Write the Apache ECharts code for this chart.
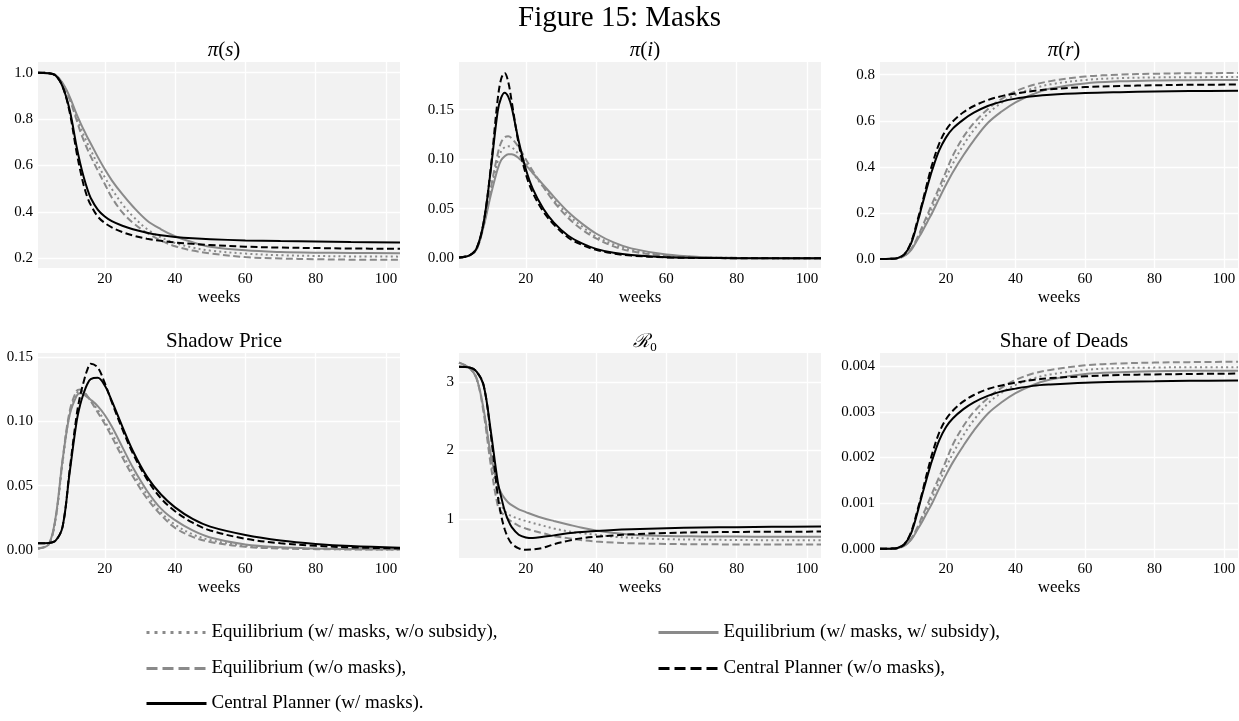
<!DOCTYPE html>
<html>
<head>
<meta charset="utf-8">
<script src="https://cdn.jsdelivr.net/npm/echarts@6/dist/echarts.min.js"></script>
<style>html,body{margin:0;padding:0;background:#fff}#c{width:1239px;height:721px}</style>
</head>
<body>
<div id="c"></div>
<script>
// ---------- data ----------
const weeks = [1,4,6,8,10,12,13,14,15,16,18,20,22,25,28,32,36,40,45,50,60,70,80,90,104];
const xTicks = [20,40,60,80,100];

const seriesNames = [
  'Equilibrium (w/ masks, w/o subsidy)',
  'Equilibrium (w/ masks, w/ subsidy)',
  'Equilibrium (w/o masks)',
  'Central Planner (w/o masks)',
  'Central Planner (w/ masks)'
];

// pi(s)
const s_eqMaskNoSub = [1.0,0.998,0.99,0.953,0.891,0.807,0.767,0.731,0.697,0.666,0.605,0.549,0.499,0.433,0.381,0.326,0.29,0.266,0.246,0.233,0.22,0.213,0.21,0.208,0.207];
const s_eqMaskSub   = [1.0,0.998,0.99,0.955,0.897,0.82,0.786,0.754,0.723,0.695,0.637,0.584,0.536,0.476,0.423,0.363,0.325,0.295,0.269,0.25,0.234,0.227,0.224,0.223,0.222];
const s_eqNoMask    = [1.0,0.998,0.99,0.95,0.885,0.795,0.748,0.708,0.672,0.639,0.578,0.52,0.462,0.398,0.353,0.309,0.276,0.252,0.233,0.221,0.205,0.199,0.196,0.194,0.193];
const s_cpNoMask    = [1.0,0.998,0.988,0.94,0.83,0.655,0.58,0.515,0.465,0.43,0.38,0.352,0.333,0.313,0.298,0.284,0.275,0.268,0.262,0.257,0.25,0.246,0.244,0.242,0.241];
const s_cpMask      = [1.0,0.998,0.988,0.94,0.84,0.68,0.61,0.55,0.5,0.46,0.41,0.38,0.36,0.34,0.325,0.31,0.299,0.292,0.286,0.282,0.277,0.274,0.272,0.27,0.268];
const s_ticks = [0.2,0.4,0.6,0.8,1.0];

// pi(i)
const i_eqMaskNoSub = [0.0008,0.003,0.009,0.033,0.067,0.098,0.108,0.112,0.113,0.112,0.105,0.096,0.086,0.072,0.059,0.044,0.032,0.022,0.014,0.0085,0.003,0.001,0.0004,0.00015,0.00004];
const i_eqMaskSub   = [0.0008,0.003,0.009,0.032,0.063,0.09,0.099,0.103,0.105,0.105,0.101,0.094,0.086,0.074,0.062,0.047,0.035,0.025,0.016,0.01,0.0038,0.0014,0.0005,0.0002,0.00005];
const i_eqNoMask    = [0.0008,0.003,0.009,0.034,0.07,0.105,0.117,0.122,0.123,0.121,0.112,0.1,0.088,0.072,0.057,0.041,0.029,0.02,0.012,0.007,0.0025,0.0008,0.0003,0.0001,0.00003];
const i_cpNoMask    = [0.0008,0.003,0.01,0.036,0.09,0.16,0.181,0.187,0.178,0.158,0.115,0.085,0.066,0.047,0.034,0.021,0.0135,0.0085,0.0048,0.0027,0.0009,0.0003,0.0001,0.00004,0.00001];
const i_cpMask      = [0.0008,0.003,0.01,0.036,0.088,0.148,0.162,0.167,0.163,0.152,0.118,0.09,0.07,0.05,0.036,0.023,0.015,0.0095,0.0055,0.0032,0.0011,0.0004,0.00015,0.00005,0.00002];
const i_ticks = [0,0.05,0.10,0.15];

// pi(r)
const r_eqMaskNoSub = [0,0.001,0.003,0.014,0.042,0.095,0.125,0.157,0.19,0.222,0.29,0.355,0.415,0.495,0.56,0.63,0.678,0.712,0.74,0.758,0.777,0.785,0.788,0.789,0.79];
const r_eqMaskSub   = [0,0.001,0.003,0.013,0.04,0.09,0.115,0.143,0.172,0.2,0.262,0.322,0.378,0.45,0.515,0.59,0.64,0.68,0.715,0.74,0.762,0.771,0.775,0.776,0.777];
const r_eqNoMask    = [0,0.001,0.003,0.016,0.045,0.1,0.135,0.17,0.205,0.24,0.31,0.38,0.45,0.53,0.59,0.65,0.695,0.728,0.755,0.772,0.792,0.8,0.804,0.806,0.807];
const r_cpNoMask    = [0,0.001,0.004,0.02,0.075,0.18,0.235,0.295,0.355,0.41,0.5,0.56,0.598,0.637,0.664,0.69,0.707,0.718,0.729,0.737,0.746,0.751,0.754,0.756,0.757];
const r_cpMask      = [0,0.001,0.004,0.02,0.07,0.17,0.227,0.282,0.335,0.385,0.47,0.528,0.567,0.605,0.635,0.664,0.683,0.696,0.706,0.713,0.72,0.724,0.727,0.729,0.73];
const r_ticks = [0,0.2,0.4,0.6,0.8];

// Shadow price
const p_eqMaskNoSub = [0.001,0.004,0.024,0.068,0.106,0.122,0.124,0.123,0.12,0.116,0.109,0.1,0.091,0.075,0.06,0.043,0.029,0.0195,0.012,0.0075,0.003,0.0013,0.0006,0.0003,0.0002];
const p_eqMaskSub   = [0.001,0.004,0.025,0.07,0.105,0.12,0.122,0.121,0.119,0.117,0.112,0.105,0.096,0.08,0.064,0.046,0.032,0.023,0.015,0.0095,0.004,0.0018,0.0009,0.0005,0.0003];
const p_eqNoMask    = [0.001,0.004,0.024,0.07,0.108,0.124,0.125,0.123,0.12,0.116,0.107,0.098,0.088,0.072,0.057,0.04,0.027,0.017,0.01,0.006,0.0022,0.0009,0.0004,0.0002,0.0001];
const p_cpNoMask    = [0.005,0.0052,0.007,0.018,0.062,0.105,0.12,0.131,0.14,0.145,0.142,0.13,0.115,0.094,0.075,0.055,0.04,0.03,0.021,0.015,0.0085,0.005,0.003,0.0018,0.001];
const p_cpMask      = [0.005,0.0052,0.007,0.018,0.06,0.1,0.113,0.122,0.129,0.133,0.134,0.128,0.116,0.096,0.077,0.057,0.043,0.033,0.024,0.018,0.0115,0.0072,0.0045,0.0028,0.0015];
const p_ticks = [0,0.05,0.10,0.15];

// R0
const R_eqMaskNoSub = [3.28,3.2,3.05,2.6,1.9,1.35,1.2,1.12,1.07,1.04,1.0,0.97,0.94,0.9,0.86,0.82,0.79,0.77,0.74,0.725,0.705,0.697,0.693,0.69,0.69];
const R_eqMaskSub   = [3.28,3.2,3.05,2.6,1.95,1.5,1.38,1.3,1.24,1.2,1.14,1.1,1.06,1.01,0.97,0.92,0.87,0.83,0.795,0.77,0.75,0.745,0.742,0.74,0.74];
const R_eqNoMask    = [3.28,3.2,3.05,2.55,1.8,1.2,1.1,1.05,1.0,0.96,0.9,0.86,0.83,0.79,0.75,0.72,0.69,0.67,0.655,0.645,0.635,0.63,0.628,0.627,0.627];
const R_cpNoMask    = [3.22,3.21,3.15,2.95,2.25,1.35,1.05,0.85,0.72,0.64,0.57,0.55,0.555,0.58,0.63,0.68,0.72,0.74,0.76,0.775,0.795,0.805,0.81,0.813,0.815];
const R_cpMask      = [3.22,3.21,3.15,2.95,2.3,1.55,1.32,1.12,0.98,0.88,0.77,0.73,0.72,0.74,0.76,0.79,0.81,0.825,0.84,0.85,0.865,0.875,0.88,0.885,0.888];
const R_ticks = [1,2,3];

// Share of deads
const d_eqMaskNoSub = [0,0.000005,0.000015,0.00007,0.00021,0.00048,0.00063,0.00079,0.00096,0.00112,0.00146,0.00179,0.00209,0.00249,0.00282,0.00318,0.00342,0.00359,0.00373,0.00382,0.00392,0.00396,0.00397,0.00398,0.00398];
const d_eqMaskSub   = [0,0.000005,0.000015,0.000065,0.0002,0.00045,0.00058,0.00072,0.00086,0.001,0.00132,0.00162,0.0019,0.00226,0.00259,0.00296,0.00321,0.00341,0.00359,0.00371,0.00383,0.00387,0.00389,0.0039,0.0039];
const d_eqNoMask    = [0,0.000005,0.000015,0.00008,0.00023,0.00051,0.00069,0.00086,0.00104,0.00122,0.00157,0.00193,0.00229,0.00269,0.003,0.0033,0.00353,0.0037,0.00384,0.00392,0.00402,0.00406,0.00408,0.00409,0.0041];
const d_cpNoMask    = [0,0.000005,0.00002,0.0001,0.00038,0.00091,0.00119,0.0015,0.0018,0.00208,0.00254,0.00284,0.00303,0.00323,0.00337,0.0035,0.00358,0.00364,0.0037,0.00374,0.00378,0.00381,0.00382,0.00383,0.00384];
const d_cpMask      = [0,0.000005,0.00002,0.0001,0.00035,0.00086,0.00115,0.00142,0.00169,0.00194,0.00237,0.00267,0.00286,0.00306,0.00321,0.00335,0.00345,0.00351,0.00357,0.0036,0.00364,0.00366,0.00367,0.00368,0.00369];
const d_ticks = [0,0.001,0.002,0.003,0.004];

// ---------- layout / style ----------
const FONT = "'Liberation Serif','DejaVu Serif',serif";
const GRAY = '#8a8a8a';
const styles = [
  {color: GRAY, type: [2, 3.2], width: 2},
  {color: GRAY, type: 'solid', width: 2},
  {color: GRAY, type: [7, 3.5], width: 2},
  {color: '#000', type: [7, 3.5], width: 2},
  {color: '#000', type: 'solid', width: 2}
];
const legendStyles = [
  {color: GRAY, type: [3, 5], width: 3},
  {color: GRAY, type: 'solid', width: 3},
  {color: GRAY, type: [11, 5], width: 3},
  {color: '#000', type: [11, 5], width: 3},
  {color: '#000', type: 'solid', width: 3}
];

const cols = [{left: 38, width: 362}, {left: 459, width: 362}, {left: 880, width: 358}];
const rows = [{top: 62, height: 206}, {top: 353, height: 205}];

const panels = [
  {title: '{i|π}{n|(}{i|s}{n|)}', sets: [s_eqMaskNoSub,s_eqMaskSub,s_eqNoMask,s_cpNoMask,s_cpMask], ticks: s_ticks, min: 0.158, max: 1.046, dec: 1},
  {title: '{i|π}{n|(}{i|i}{n|)}', sets: [i_eqMaskNoSub,i_eqMaskSub,i_eqNoMask,i_cpNoMask,i_cpMask], ticks: i_ticks, min: -0.0098, max: 0.198, dec: 2},
  {title: '{i|π}{n|(}{i|r}{n|)}', sets: [r_eqMaskNoSub,r_eqMaskSub,r_eqNoMask,r_cpNoMask,r_cpMask], ticks: r_ticks, min: -0.039, max: 0.855, dec: 1},
  {title: '{n|Shadow Price}', sets: [p_eqMaskNoSub,p_eqMaskSub,p_eqNoMask,p_cpNoMask,p_cpMask], ticks: p_ticks, min: -0.0065, max: 0.1534, dec: 2},
  {title: '{c|ℛ}{sub|0}', sets: [R_eqMaskNoSub,R_eqMaskSub,R_eqNoMask,R_cpNoMask,R_cpMask], ticks: R_ticks, min: 0.43, max: 3.42, dec: 0},
  {title: '{n|Share of Deads}', sets: [d_eqMaskNoSub,d_eqMaskSub,d_eqNoMask,d_cpNoMask,d_cpMask], ticks: d_ticks, min: -0.0002, max: 0.00429, dec: 3}
];

const grids = [], xAxes = [], yAxes = [], series = [];
const titles = [{
  text: 'Figure 15: Masks', left: 'center', top: -1,
  textStyle: {fontFamily: FONT, fontSize: 29, fontWeight: 'normal', color: '#000'}
}];

panels.forEach((p, k) => {
  const c = cols[k % 3], r = rows[Math.floor(k / 3)];
  grids.push({left: c.left, top: r.top, width: c.width, height: r.height,
    show: true, backgroundColor: '#f2f2f2', borderWidth: 0, containLabel: false});
  xAxes.push({
    type: 'value', gridIndex: k, min: 1, max: 104,
    name: 'weeks', nameLocation: 'middle', nameGap: 21,
    nameTextStyle: {fontFamily: FONT, fontSize: 17, color: '#000'},
    axisLine: {show: false},
    axisTick: {show: false, customValues: xTicks},
    axisLabel: {customValues: xTicks, margin: 4, fontFamily: FONT, fontSize: 15, color: '#000'},
    splitLine: {show: true, lineStyle: {color: '#ffffff', width: 1.3}}
  });
  yAxes.push({
    type: 'value', gridIndex: k, min: p.min, max: p.max,
    axisLine: {show: false},
    axisTick: {show: false, customValues: p.ticks},
    axisLabel: {customValues: p.ticks, margin: 5, fontFamily: FONT, fontSize: 15, color: '#000',
      formatter: v => Number(v).toFixed(p.dec)},
    splitLine: {show: true, lineStyle: {color: '#ffffff', width: 1.3}}
  });
  titles.push({
    text: p.title, left: c.left + c.width / 2, top: r.top - 27, textAlign: 'center',
    textStyle: {
      fontWeight: 'normal',
      rich: {
        i: {fontFamily: FONT, fontStyle: 'italic', fontWeight: 'normal', fontSize: 21, color: '#000'},
        n: {fontFamily: FONT, fontWeight: 'normal', fontSize: 21, color: '#000'},
        c: {fontFamily: "'DejaVu Serif',serif", fontStyle: 'italic', fontWeight: 'normal', fontSize: 19, color: '#000'},
        sub: {fontFamily: FONT, fontWeight: 'normal', fontSize: 13, color: '#000', padding: [10, 0, 0, 0]}
      }
    }
  });
  p.sets.forEach((arr, j) => {
    series.push({
      type: 'line', name: seriesNames[j], xAxisIndex: k, yAxisIndex: k,
      data: weeks.map((w, idx) => [w, arr[idx]]),
      showSymbol: false, symbol: 'none', smooth: 0.35,
      lineStyle: styles[j], itemStyle: {color: styles[j].color},
      z: 2 + j, silent: true, animation: false
    });
  });
});

const legendPos = [
  {left: 145, top: 623, end: ','},
  {left: 657, top: 623, end: ','},
  {left: 145, top: 659, end: ','},
  {left: 657, top: 659, end: ','},
  {left: 145, top: 694, end: '.'}
];
const legends = seriesNames.map((n, j) => ({
  data: [n], left: legendPos[j].left, top: legendPos[j].top, padding: 0,
  itemWidth: 60, itemHeight: 18, selectedMode: false,
  itemStyle: {opacity: 0, borderWidth: 0},
  lineStyle: legendStyles[j],
  formatter: name => name + legendPos[j].end,
  textStyle: {fontFamily: FONT, fontSize: 19, color: '#000'}
}));

const chart = echarts.init(document.getElementById('c'), null, {renderer: 'canvas'});
chart.setOption({
  animation: false,
  backgroundColor: '#ffffff',
  title: titles,
  grid: grids,
  xAxis: xAxes,
  yAxis: yAxes,
  legend: legends,
  series: series
});
</script>
</body>
</html>
